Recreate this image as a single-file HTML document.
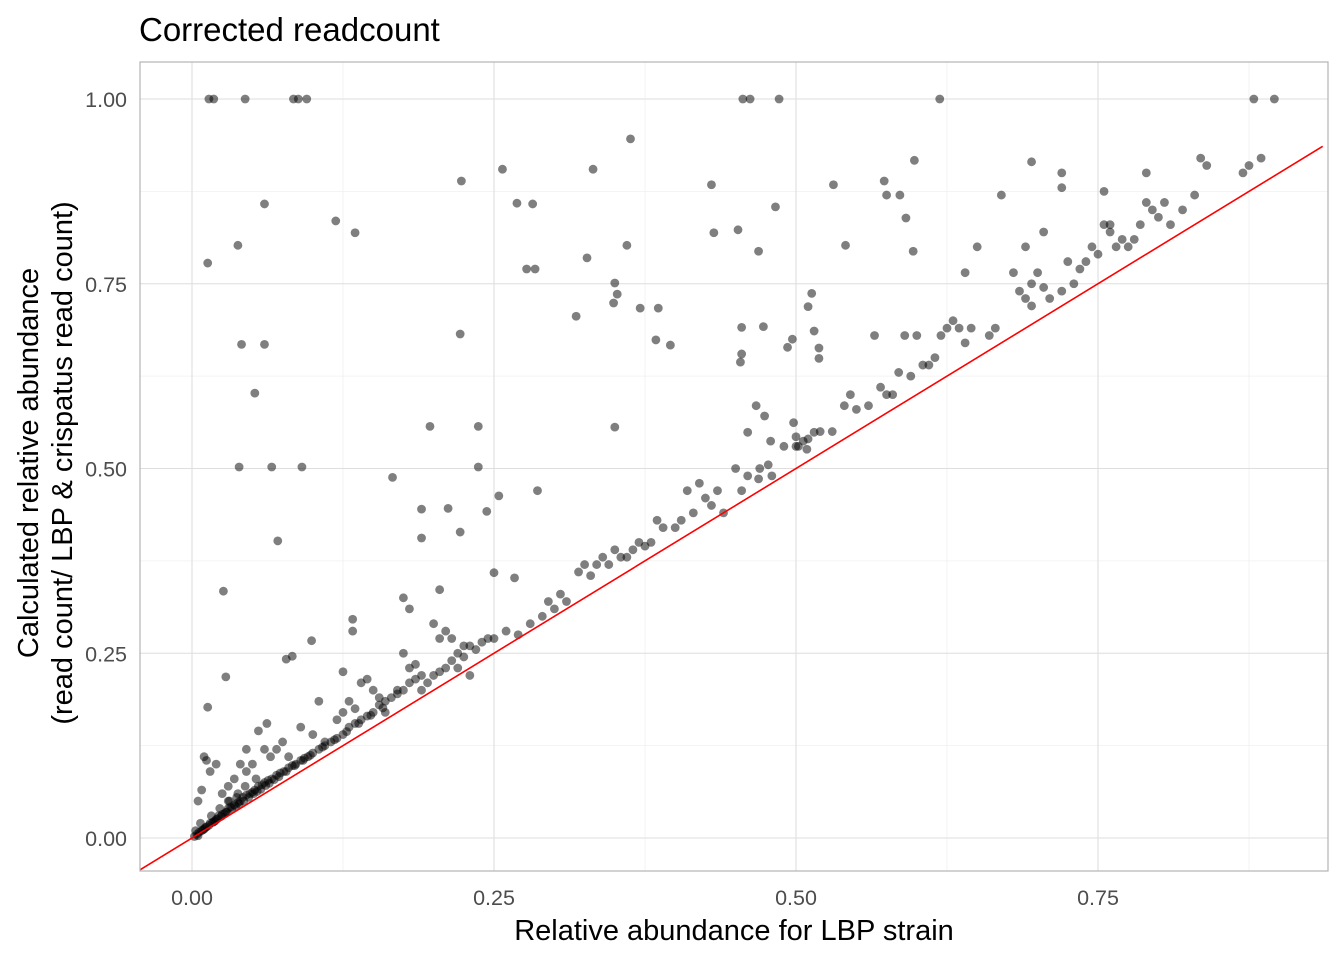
<!DOCTYPE html>
<html><head><meta charset="utf-8"><style>
body{margin:0;background:#fff;font-family:"Liberation Sans",sans-serif}
</style></head><body>
<svg id="chart" width="1344" height="960" xmlns="http://www.w3.org/2000/svg" font-family="Liberation Sans, sans-serif">
<text x="139" y="41" font-size="33" fill="#000">Corrected readcount</text>
<g id="grid"></g>
<g id="pts"></g>
<line id="refline" stroke="#ff0000" stroke-width="1.6"/>
<rect x="140" y="62" width="1188" height="809" fill="none" stroke="#b3b3b3" stroke-width="1.2"/>
<g id="ticks"></g>
<text x="734" y="940" font-size="29" text-anchor="middle" fill="#000">Relative abundance for LBP strain</text>
<g transform="translate(0,463) rotate(-90)" font-size="29" fill="#000" text-anchor="middle">
<text x="0" y="38">Calculated relative abundance</text>
<text x="0" y="72">(read count/ LBP &amp; crispatus read count)</text>
</g>
</svg>
<script>
const xTicks=[0,0.25,0.5,0.75];
const yTicks=[0,0.25,0.5,0.75,1.0];
const tickLabels=["0.00","0.25","0.50","0.75","1.00"];
const xMinor=[0.125,0.375,0.625,0.875];
const yMinor=[0.125,0.375,0.625,0.875];
const xs=[0.014,0.018,0.044,0.084,0.088,0.095,0.456,0.462,0.486,0.619,0.879,0.896,
0.363,0.332,0.257,0.223,0.269,0.282,0.060,0.119,0.135,0.038,0.013,0.277,0.284,0.327,0.360,0.041,0.060,0.052,0.222,0.318,0.350,0.352,0.349,0.371,0.386,0.384,0.396,
0.039,0.066,0.091,0.071,0.197,0.237,0.350,0.166,0.190,0.212,0.237,0.254,0.244,0.286,0.190,0.222,0.026,0.028,0.013,0.099,0.078,0.083,0.133,0.133,0.205,0.250,0.267,
0.430,0.432,0.452,0.469,0.483,0.531,0.541,0.573,0.575,0.586,0.591,0.598,0.597,0.455,0.455,0.454,0.473,0.467,0.474,0.460,0.479,0.477,0.469,
0.513,0.510,0.515,0.519,0.493,0.497,0.519,0.498,0.500,0.506,0.509,0.502,0.515,
0.25,0.26,0.27,0.28,0.29,0.295,0.30,0.305,0.31,0.32,0.325,0.33,0.335,0.34,0.345,0.35,0.355,0.36,0.365,0.37,0.375,0.38,0.385,0.39,0.40,0.405,0.41,0.415,0.42,0.425,0.43,0.435,0.44,0.45,0.455,0.46,0.47,0.48,0.49,0.50,0.51,0.52,0.53,0.54,0.545,0.55,0.56,0.565,0.57,0.575,0.58,0.585,0.59,0.595,0.60,0.605,0.61,0.615,0.62,0.625,0.63,0.635,0.64,0.645,0.64,0.65,0.66,0.665,0.67,0.68,0.685,0.69,0.695,0.70,0.705,0.71,0.72,0.725,0.73,0.735,0.74,0.745,0.75,0.755,0.76,0.765,0.77,0.775,0.78,0.785,0.79,0.795,0.80,0.805,0.81,0.82,0.83,0.835,0.84,0.87,0.875,0.885,0.695,0.72,0.72,0.755,0.76,0.79,0.69,0.695,0.705,
0.005,0.008,0.01,0.012,0.015,0.018,0.02,0.022,0.025,0.028,0.03,0.032,0.035,0.038,0.04,0.042,0.045,0.048,0.05,0.052,0.055,0.058,0.06,0.063,0.066,0.07,0.073,0.076,0.08,0.083,0.086,0.09,0.093,0.096,0.1,0.105,0.11,0.115,0.12,0.125,0.13,0.135,0.14,0.145,0.15,0.155,0.16,0.165,0.17,0.175,0.18,0.185,0.19,0.195,0.2,0.205,0.21,0.215,0.22,0.225,0.23,0.235,0.24,0.245,
0.01,0.012,0.015,0.02,0.005,0.008,0.025,0.03,0.035,0.04,0.045,0.05,0.055,0.06,0.062,0.07,0.075,0.08,0.09,0.1,0.105,0.11,0.12,0.125,0.13,0.14,0.145,0.15,0.155,0.16,0.17,0.175,0.18,0.185,0.19,0.2,0.205,0.21,0.215,0.22,0.225,0.23,0.175,0.18,0.125,0.135,0.065,0.045,0.03,0.038,
0.002,0.004,0.006,0.009,0.011,0.014,0.017,0.019,0.021,0.024,0.027,0.029,0.033,0.036,0.039,0.043,0.047,0.051,0.054,0.057,0.061,0.064,0.068,0.072,0.078,0.085,0.092,0.098,0.108,0.118,0.128,0.138,0.148,0.158,0.003,0.007,0.016,0.023,0.031,0.037,0.044,0.053];
const ys=[1,1,1,1,1,1,1,1,1,1,1,1,
0.946,0.905,0.905,0.889,0.859,0.858,0.858,0.835,0.819,0.802,0.778,0.770,0.770,0.785,0.802,0.668,0.668,0.602,0.682,0.706,0.751,0.736,0.724,0.717,0.717,0.674,0.667,
0.502,0.502,0.502,0.402,0.557,0.557,0.556,0.488,0.445,0.446,0.502,0.463,0.442,0.470,0.406,0.414,0.334,0.218,0.177,0.267,0.242,0.246,0.296,0.280,0.336,0.359,0.352,
0.884,0.819,0.823,0.794,0.854,0.884,0.802,0.889,0.870,0.870,0.839,0.917,0.794,0.691,0.655,0.644,0.692,0.585,0.571,0.549,0.537,0.505,0.486,
0.737,0.719,0.686,0.663,0.664,0.675,0.649,0.562,0.543,0.537,0.526,0.530,0.549,
0.27,0.28,0.275,0.29,0.30,0.32,0.31,0.33,0.32,0.36,0.37,0.355,0.37,0.38,0.37,0.39,0.38,0.38,0.39,0.40,0.395,0.40,0.43,0.42,0.42,0.43,0.47,0.44,0.48,0.46,0.45,0.47,0.44,0.50,0.47,0.49,0.50,0.49,0.53,0.53,0.54,0.55,0.55,0.585,0.60,0.58,0.585,0.68,0.61,0.60,0.60,0.63,0.68,0.625,0.68,0.64,0.64,0.65,0.68,0.69,0.70,0.69,0.67,0.69,0.765,0.80,0.68,0.69,0.87,0.765,0.74,0.73,0.72,0.765,0.745,0.73,0.74,0.78,0.75,0.77,0.78,0.80,0.79,0.83,0.82,0.80,0.81,0.80,0.81,0.83,0.86,0.85,0.84,0.86,0.83,0.85,0.87,0.92,0.91,0.90,0.91,0.92,0.915,0.90,0.88,0.875,0.83,0.90,0.80,0.75,0.82,
0.003,0.01,0.012,0.015,0.02,0.022,0.025,0.03,0.032,0.035,0.04,0.042,0.045,0.048,0.05,0.055,0.058,0.06,0.062,0.065,0.07,0.072,0.075,0.078,0.08,0.085,0.088,0.09,0.095,0.098,0.1,0.105,0.108,0.11,0.115,0.12,0.125,0.13,0.135,0.14,0.15,0.155,0.16,0.165,0.17,0.18,0.185,0.19,0.195,0.2,0.21,0.215,0.2,0.21,0.22,0.225,0.23,0.24,0.25,0.245,0.26,0.255,0.265,0.27,
0.11,0.105,0.09,0.1,0.05,0.065,0.06,0.07,0.08,0.1,0.09,0.1,0.145,0.12,0.155,0.12,0.13,0.11,0.15,0.14,0.185,0.13,0.16,0.17,0.185,0.21,0.215,0.2,0.19,0.17,0.2,0.25,0.23,0.235,0.22,0.29,0.27,0.28,0.27,0.23,0.26,0.22,0.325,0.31,0.225,0.175,0.11,0.12,0.05,0.06,
0.002,0.005,0.008,0.011,0.014,0.017,0.021,0.023,0.026,0.029,0.033,0.035,0.04,0.043,0.046,0.05,0.055,0.06,0.063,0.066,0.071,0.074,0.079,0.083,0.09,0.098,0.105,0.112,0.123,0.133,0.144,0.155,0.166,0.176,0.01,0.02,0.03,0.04,0.05,0.055,0.07,0.08];
const NS='http://www.w3.org/2000/svg';
const X=v=>192+v*1208, Y=v=>838-v*739;
function mk(t,a,p){const e=document.createElementNS(NS,t);for(const k in a)e.setAttribute(k,a[k]);p.appendChild(e);return e;}
const grid=document.getElementById('grid'),ticks=document.getElementById('ticks'),pts=document.getElementById('pts');
xMinor.forEach(v=>{const l=mk('line',{x1:X(v),x2:X(v),y1:62,y2:871,stroke:'#f0f0f0','stroke-width':0.8},grid);

});
yMinor.forEach(v=>{const l=mk('line',{x1:140,x2:1328,y1:Y(v),y2:Y(v),stroke:'#f0f0f0','stroke-width':0.8},grid);

});
xTicks.forEach((v,i)=>{const l=mk('line',{x1:X(v),x2:X(v),y1:62,y2:871,stroke:'#dedede','stroke-width':1.1},grid);


const t=mk('text',{x:X(v),y:905,'font-size':21.5,fill:'#4d4d4d','text-anchor':'middle'},ticks);t.textContent=tickLabels[i];

});
yTicks.forEach((v,i)=>{const l=mk('line',{x1:140,x2:1328,y1:Y(v),y2:Y(v),stroke:'#dedede','stroke-width':1.1},grid);


const t=mk('text',{x:127,y:Y(v)+8,'font-size':21.5,fill:'#4d4d4d','text-anchor':'end'},ticks);t.textContent=tickLabels[i];

});
xs.forEach((v,i)=>{const c=mk('circle',{cx:X(v),cy:Y(ys[i]),r:4.4,fill:'#000','fill-opacity':0.5},pts);

});
const rl=document.getElementById('refline');
const lo=-0.043,hi=0.936;
rl.setAttribute('x1',X(lo));rl.setAttribute('y1',Y(lo));rl.setAttribute('x2',X(hi));rl.setAttribute('y2',Y(hi));
</script>
</body></html>
